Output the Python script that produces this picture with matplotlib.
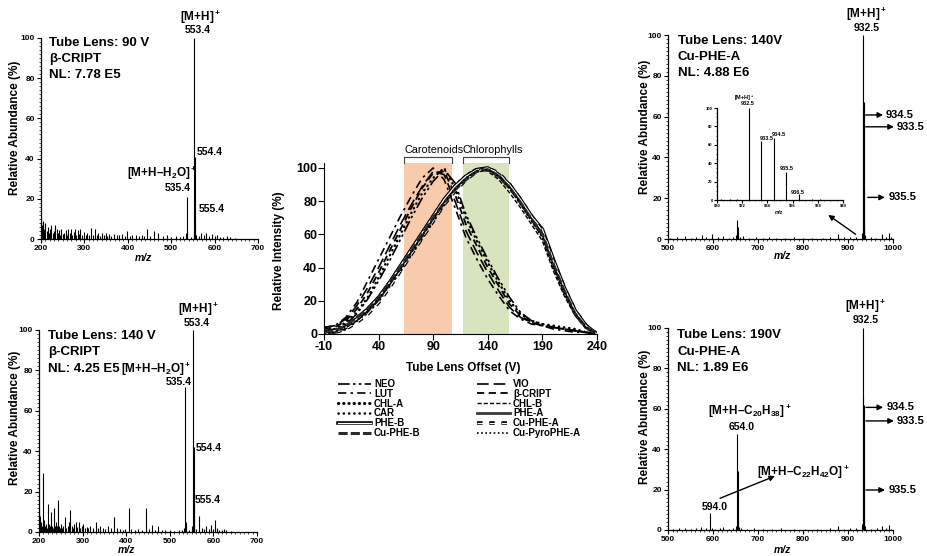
import matplotlib
matplotlib.use("Agg")
import matplotlib.pyplot as plt
import matplotlib.patheffects as pe
from matplotlib.ticker import MultipleLocator

W, H = 927, 556

plt.rcParams['font.family'] = ['Liberation Sans', 'DejaVu Sans']
plt.rcParams['font.weight'] = 'bold'
plt.rcParams['axes.unicode_minus'] = False
plt.rcParams['mathtext.fontset'] = 'custom'
plt.rcParams['mathtext.rm'] = 'Liberation Sans:bold'
plt.rcParams['mathtext.bf'] = 'Liberation Sans:bold'
plt.rcParams['mathtext.it'] = 'Liberation Sans:bold:italic'
plt.rcParams['mathtext.default'] = 'rm'

# ---- spectra: (m/z, relative abundance %) ----
tl_peaks = [(201, 12), (203, 7), (205, 9), (208, 5), (210, 8), (213, 4), (215, 6), (218, 3),
            (221, 5), (224, 7), (227, 3), (230, 4), (233, 7), (236, 5), (239, 3), (241, 4.5),
            (244, 2), (247, 5), (250, 2.5), (253, 3), (257, 4.5), (260, 2), (263, 5), (266, 3),
            (269, 5), (272, 2), (275, 3.5), (278, 5), (281, 2), (285, 4.5), (288, 2.5), (291, 5),
            (295, 2), (299, 3.5), (303, 2), (307, 3), (311, 2), (315, 5.5), (319, 2), (324, 5),
            (328, 2), (331, 3), (336, 1.5), (340, 3), (345, 2), (349, 3), (353, 1.5), (357, 2.5),
            (362, 1.5), (368, 2.5), (374, 2), (380, 2), (387, 2.5), (393, 1.5), (399, 4), (405, 1.5),
            (410, 2), (418, 2), (425, 1.5), (432, 2), (437, 1.5), (445, 5), (451, 1.5), (460, 4),
            (470, 3), (480, 1.5), (490, 2), (500, 1), (510, 1.5), (520, 1), (528, 1.5), (533.4, 3),
            (535.4, 21), (536.4, 4), (545, 1), (551.4, 2), (553.4, 100), (554.4, 41), (555.4, 8),
            (556.4, 2), (563, 1.5), (569, 3), (575, 2), (581, 3), (587, 1.5), (593, 2.5), (600, 1.5),
            (606, 2), (613, 1), (620, 1), (628, 1.5), (636, 1), (648, 0.5)]

bl_peaks = [(201, 12), (203, 8), (205, 5), (207, 3), (210, 29), (212, 6), (214, 3), (217, 4),
            (219, 2), (221, 14), (223, 4), (225, 3), (227, 10), (229, 3), (231, 2), (234, 12),
            (236, 3), (239, 5), (241, 3), (243, 16), (245, 3), (248, 2), (250, 4), (253, 2),
            (256, 3), (260, 7.5), (263, 2), (266, 3), (268, 5), (272, 11), (275, 3), (278, 2),
            (281, 4), (284, 5), (287, 2.5), (291, 5), (294, 2), (298, 3), (302, 4), (305, 2),
            (309, 2.5), (313, 2), (318, 3), (324, 2), (331, 5), (336, 2), (341, 3), (346, 2),
            (352, 1.5), (358, 3), (364, 2), (372, 7.5), (378, 2), (385, 1.5), (392, 1), (398, 1.5),
            (406, 12), (412, 1.5), (420, 1), (428, 1.5), (436, 1), (445, 12), (452, 1.5), (460, 3.5),
            (467, 1), (474, 3), (482, 1), (490, 1), (500, 1), (510, 0.5), (520, 1), (528, 1),
            (533.4, 2), (535.4, 72), (536.4, 5), (545, 1), (551.4, 3), (553.4, 100), (554.4, 42),
            (555.4, 14), (556.4, 3), (560, 1.5), (568, 8), (573, 2), (578, 1.5), (583, 3), (589, 1.5),
            (594, 3.5), (599, 1.5), (604, 6), (608, 2), (613, 1), (620, 1), (625, 1.5), (630, 1),
            (640, 0.5)]

tr_peaks = [(505, 0.5), (520, 1), (537, 1.5), (550, 0.5), (562, 1), (576, 2), (585, 1), (597, 2.5),
            (610, 1), (622, 1.5), (635, 0.5), (645, 1), (652, 2), (654, 9.5), (655, 6), (656, 2),
            (660, 1), (667, 1.5), (680, 0.5), (695, 1), (710, 0.5), (725, 1), (740, 0.5), (760, 0.5),
            (780, 1), (800, 0.5), (820, 0.5), (845, 0.5), (860, 1), (878, 2.5), (890, 1), (905, 1),
            (918, 1), (930.5, 1.5), (931.5, 3), (932.5, 100), (933.5, 64), (934.5, 67), (935.5, 25),
            (936.5, 6), (937.5, 2), (950, 1), (962, 0.5), (975, 2.5), (985, 1), (991, 3), (996, 1)]

br_peaks = [(510, 0.5), (525, 1), (537, 1), (550, 0.5), (562, 1), (574, 1.5), (585, 1), (594, 8.5),
            (597, 1), (605, 0.5), (615, 1), (622, 1.5), (635, 0.5), (645, 1), (652, 2), (654, 47.5),
            (655, 29), (656, 5), (658, 1.5), (663, 1), (675, 0.5), (690, 1), (710, 0.5), (730, 0.5),
            (750, 1), (780, 0.5), (805, 0.5), (830, 0.5), (860, 1), (878, 2), (890, 0.5), (905, 1),
            (918, 1), (930.5, 1), (931.5, 3), (932.5, 100), (933.5, 66), (934.5, 62), (935.5, 25),
            (936.5, 6), (937.5, 2), (950, 0.5), (965, 1), (975, 2), (985, 1), (991, 2.5), (996, 0.5)]

inset_peaks = [(930.3, 1), (931.0, 1.5), (931.6, 1), (932.5, 100), (933.5, 64), (934.5, 67),
               (935.5, 30), (936.5, 6), (937.5, 1.5), (938.2, 1), (939.3, 0.5)]

# ---- tube lens survey (relative intensity %) ----
offset_v = [-10, 0, 10, 20, 30, 40, 50, 60, 70, 80, 90, 100, 110, 120, 130, 140, 150,
            160, 170, 180, 190, 200, 210, 220, 230, 240]
neo = [2, 3, 6, 12, 21, 32, 44, 57, 70, 82, 92, 99, 91, 72, 58, 45, 33, 22, 13, 8, 6, 4, 3, 2, 1, 0]
vio = [4, 5, 9, 17, 28, 40, 53, 66, 78, 89, 98, 96, 80, 62, 49, 37, 26, 16, 10, 7, 5, 4, 3, 2, 1, 0]
lut = [4, 5, 10, 19, 32, 45, 58, 71, 83, 94, 100, 93, 76, 58, 45, 33, 23, 14, 9, 6, 5, 3, 2, 1, 1, 0]
bcript = [3, 4, 8, 15, 25, 37, 50, 63, 76, 88, 97, 98, 84, 66, 53, 40, 29, 18, 11, 7, 5, 4, 3, 2, 1, 0]
car = [2, 3, 7, 13, 22, 34, 47, 60, 73, 85, 94, 100, 88, 70, 56, 43, 31, 20, 12, 8, 6, 5, 4, 3, 1, 0]
chl_a = [0, 1, 3, 8, 13, 20, 29, 38, 48, 58, 68, 78, 87, 94, 99, 100, 95, 88, 79, 69, 59, 41, 25, 12, 4, 0]
chl_b = [1, 2, 5, 10, 16, 23, 32, 42, 52, 62, 72, 82, 90, 96, 100, 98, 93, 85, 76, 66, 56, 38, 23, 11, 3, 0]
phe_a = [0, 1, 4, 9, 14, 21, 30, 40, 50, 60, 70, 80, 88, 94, 99, 99, 96, 89, 80, 70, 61, 43, 27, 13, 4, 0]
phe_b = [1, 2, 4, 9, 15, 22, 31, 41, 51, 61, 71, 81, 89, 95, 99, 100, 96, 90, 81, 71, 63, 45, 28, 14, 5, 0]
cu_phe_a = [0, 1, 3, 7, 12, 19, 28, 38, 48, 58, 68, 78, 86, 93, 98, 100, 97, 90, 81, 71, 62, 44, 28, 14, 5, 0]
cu_phe_b = [1, 2, 5, 10, 15, 22, 31, 40, 50, 60, 70, 79, 87, 93, 98, 99, 95, 88, 79, 69, 60, 42, 26, 12, 4, 0]
cu_pyro = [0, 1, 4, 8, 14, 21, 30, 39, 49, 59, 69, 79, 87, 94, 98, 99, 95, 88, 78, 68, 58, 40, 25, 12, 4, 0]

carot_band = (63.5, 107)
chloro_band = (117, 159.5)


def box(l, t, r, b):
    return [l / W, 1 - b / H, (r - l) / W, (b - t) / H]


def put(x, y, s, **kw):
    kw.setdefault('weight', 'bold')
    fig.text(x / W, 1 - y / H, s, **kw)


def spectrum(rect, peaks, xlim, xmajor, xminor, lsize=6):
    ax = fig.add_axes(box(*rect))
    mz, ab = zip(*peaks)
    ax.vlines(mz, 0, ab, color='black', lw=0.8)
    ax.set_xlim(*xlim)
    ax.set_ylim(0, 100)
    ax.xaxis.set_major_locator(MultipleLocator(xmajor))
    ax.xaxis.set_minor_locator(MultipleLocator(xminor))
    ax.yaxis.set_major_locator(MultipleLocator(20))
    ax.yaxis.set_minor_locator(MultipleLocator(2))
    for s in ['top', 'right']:
        ax.spines[s].set_visible(False)
    for s in ['left', 'bottom']:
        ax.spines[s].set_linewidth(0.9)
    ax.tick_params(which='major', length=3, width=0.8, labelsize=lsize, pad=1.5)
    ax.tick_params(which='minor', length=1.5, width=0.5)
    for t in ax.get_xticklabels() + ax.get_yticklabels():
        t.set_fontweight('bold')
    return ax


def arrow(ax, x0, y0, x1, y1):
    ax.annotate('', xy=(x1, y1), xytext=(x0, y0), annotation_clip=False,
                arrowprops=dict(arrowstyle='-|>', color='black', lw=1, mutation_scale=8,
                                shrinkA=0, shrinkB=0))


fig = plt.figure(figsize=(W / 100, H / 100), dpi=100)

# ---------------- top-left ----------------
ax_tl = spectrum((41, 38, 258, 239), tl_peaks, (200, 700), 100, 10)
put(49, 37, "Tube Lens: 90 V", va='top', size=9.5)
put(49, 53, "β-CRIPT", va='top', size=9.5)
put(49, 69, "NL: 7.78 E5", va='top', size=9.5)
put(201, 17, "[M+H]$^+$", ha='center', va='center', size=8.5)
put(198, 30, "553.4", ha='center', va='center', size=7.5)
put(197, 152, "554.4", ha='left', va='center', size=7.5)
put(197, 173, "[M+H–H$_2$O]$^+$", ha='right', va='center', size=8.5)
put(178, 188, "535.4", ha='center', va='center', size=7.5)
put(199, 209, "555.4", ha='left', va='center', size=7.5)
put(144, 258, "m/z", ha='center', va='center', size=7.5, style='italic')
put(15, 128, "Relative Abundance (%)", ha='center', va='center', rotation=90, size=8.5)

# ---------------- bottom-left ----------------
ax_bl = spectrum((39, 330, 257, 532), bl_peaks, (200, 700), 100, 10)
put(48, 330, "Tube Lens: 140 V", va='top', size=9.5)
put(48, 346, "β-CRIPT", va='top', size=9.5)
put(48, 363, "NL: 4.25 E5", va='top', size=9.5)
put(121, 369, "[M+H–H$_2$O]$^+$", ha='left', va='center', size=8.5)
put(179, 382, "535.4", ha='center', va='center', size=7.5)
put(199, 309, "[M+H]$^+$", ha='center', va='center', size=8.5)
put(197, 323, "553.4", ha='center', va='center', size=7.5)
put(196, 448, "554.4", ha='left', va='center', size=7.5)
put(195, 500, "555.4", ha='left', va='center', size=7.5)
put(127, 550, "m/z", ha='center', va='center', size=7.5, style='italic')
put(15, 418, "Relative Abundance (%)", ha='center', va='center', rotation=90, size=8.5)

# ---------------- top-right ----------------
ax_tr = spectrum((668, 35, 893, 239), tr_peaks, (500, 1000), 100, 10)
put(678, 35, "Tube Lens: 140V", va='top', size=9.5)
put(678, 51, "Cu-PHE-A", va='top', size=9.5)
put(678, 67, "NL: 4.88 E6", va='top', size=9.5)
put(867, 14, "[M+H]$^+$", ha='center', va='center', size=8.5)
put(867, 28, "932.5", ha='center', va='center', size=7.5)
arrow(ax_tr, 939, 60.8, 978, 60.8)
put(886, 115, "934.5", va='center', size=8)
arrow(ax_tr, 939, 55, 1002, 55)
put(897, 127, "933.5", va='center', size=8)
arrow(ax_tr, 944, 20.4, 982, 20.4)
put(889, 197, "935.5", va='center', size=8)
arrow(ax_tr, 917, 2.3, 856, 11.8)
put(783, 256, "m/z", ha='center', va='center', size=7.5, style='italic')
put(645, 127, "Relative Abundance (%)", ha='center', va='center', rotation=90, size=8.5)

# inset
ax_in = spectrum((717, 108, 843, 200), inset_peaks, (930, 940), 2, 0.5, lsize=3)
ax_in.yaxis.set_minor_locator(MultipleLocator(5))
ax_in.tick_params(which='major', length=2, pad=1)
ax_in.tick_params(which='minor', length=1)
put(744, 98, "[M+H]$^+$", ha='center', va='center', size=4)
put(748, 104, "932.5", ha='center', va='center', size=4)
put(767, 139, "933.5", ha='center', va='center', size=4)
put(779, 134, "934.5", ha='center', va='center', size=4)
put(787, 168, "935.5", ha='center', va='center', size=4)
put(798, 192, "936.5", ha='center', va='center', size=4)
put(779, 212, "m/z", ha='center', va='center', size=3.5, style='italic')

# ---------------- bottom-right ----------------
ax_br = spectrum((668, 328, 893, 530), br_peaks, (500, 1000), 100, 10)
put(677, 329, "Tube Lens: 190V", va='top', size=9.5)
put(677, 346, "Cu-PHE-A", va='top', size=9.5)
put(677, 362, "NL: 1.89 E6", va='top', size=9.5)
put(866, 306, "[M+H]$^+$", ha='center', va='center', size=8.5)
put(866, 320, "932.5", ha='center', va='center', size=7.5)
put(750, 411, "[M+H–C$_{20}$H$_{38}$]$^+$", ha='center', va='center', size=8.5)
put(742, 427, "654.0", ha='center', va='center', size=7.5)
put(757, 472, "[M+H–C$_{22}$H$_{42}$O]$^+$", ha='left', va='center', size=8.5)
put(715, 507, "594.0", ha='center', va='center', size=7.5)
arrow(ax_br, 615.6, 15.7, 737.8, 26.7)
arrow(ax_br, 940, 60.7, 978, 60.7)
put(887, 407, "934.5", va='center', size=8)
arrow(ax_br, 940, 54, 1002, 54)
put(897, 421, "933.5", va='center', size=8)
arrow(ax_br, 940, 19.8, 982, 19.8)
put(889, 490, "935.5", va='center', size=8)
put(783, 550, "m/z", ha='center', va='center', size=7.5, style='italic')
put(645, 417, "Relative Abundance (%)", ha='center', va='center', rotation=90, size=8.5)

# ---------------- center: tube lens offset survey ----------------
ax_c = fig.add_axes(box(324, 163, 597, 334))
ax_c.axvspan(*carot_band, color='#F8CBAD', lw=0, zorder=0)
ax_c.axvspan(*chloro_band, color='#D7E4BD', lw=0, zorder=0)

double = [pe.Stroke(linewidth=2.6, foreground='black'), pe.Normal()]
series = [
    ('NEO', neo, dict(color='black', lw=1.2, ls=(0, (7, 2, 1.5, 2, 1.5, 2)))),
    ('VIO', vio, dict(color='black', lw=1.2, ls=(0, (7, 3)))),
    ('LUT', lut, dict(color='black', lw=1.2, ls=(0, (5, 2.5, 1.5, 2.5)))),
    ('β-CRIPT', bcript, dict(color='black', lw=1.3, ls=(0, (4, 2.5)))),
    ('CAR', car, dict(color='black', lw=1.8, ls=(0, (0.1, 2)), dash_capstyle='round')),
    ('CHL-A', chl_a, dict(color='black', lw=2.2, ls=(0, (0.1, 1.6)), dash_capstyle='round')),
    ('CHL-B', chl_b, dict(color='black', lw=1.0, ls=(0, (3, 1.5)))),
    ('PHE-A', phe_a, dict(color='#3a3a3a', lw=2.0, ls='-')),
    ('PHE-B', phe_b, dict(color='white', lw=0.9, ls='-', path_effects=double)),
    ('Cu-PHE-A', cu_phe_a, dict(color='white', lw=0.8, ls=(0, (5, 6)), path_effects=double)),
    ('Cu-PHE-B', cu_phe_b, dict(color='#2a2a2a', lw=2.2, ls=(0, (3, 1)))),
    ('Cu-PyroPHE-A', cu_pyro, dict(color='black', lw=1.2, ls=(0, (1, 1.5)))),
]
lines = {}
for name, vals, st in series:
    lines[name], = ax_c.plot(offset_v, vals, zorder=2, **st)

ax_c.set_xlim(-10, 240)
ax_c.set_ylim(0, 103)
ax_c.set_xticks([-10, 40, 90, 140, 190, 240])
ax_c.set_yticks([0, 20, 40, 60, 80, 100])
for s in ['top', 'right']:
    ax_c.spines[s].set_visible(False)
ax_c.tick_params(length=4, width=0.8, labelsize=9, pad=1)
for t in ax_c.get_xticklabels() + ax_c.get_yticklabels():
    t.set_fontweight('bold')

# bracket labels over the shaded bands
for (a, b) in (carot_band, chloro_band):
    ax_c.plot([a, a, b, b], [103, 106.6, 106.6, 103], color='#404040', lw=0.8, clip_on=False)
ax_c.text(carot_band[0], 111, "Carotenoids", ha='left', va='center', size=7.8,
          weight='normal', clip_on=False)
ax_c.text(chloro_band[0] - 0.5, 111, "Chlorophylls", ha='left', va='center', size=7.8,
          weight='normal', clip_on=False)

put(463, 368, "Tube Lens Offset (V)", ha='center', va='center', size=8.5)
put(279, 251, "Relative Intensity (%)", ha='center', va='center', rotation=90, size=8.5)

order = ['NEO', 'LUT', 'CHL-A', 'CAR', 'PHE-B', 'Cu-PHE-B',
         'VIO', 'β-CRIPT', 'CHL-B', 'PHE-A', 'Cu-PHE-A', 'Cu-PyroPHE-A']
fig.legend([lines[n] for n in order], order, loc='upper left',
           bbox_to_anchor=(338 / W, 1 - 379 / H), ncol=2, frameon=False,
           prop=dict(weight='bold', size=7), handlelength=3.4, handletextpad=0.3,
           columnspacing=5.8, labelspacing=-0.02, borderpad=0, borderaxespad=0)

fig.savefig("out.png", dpi=100)
